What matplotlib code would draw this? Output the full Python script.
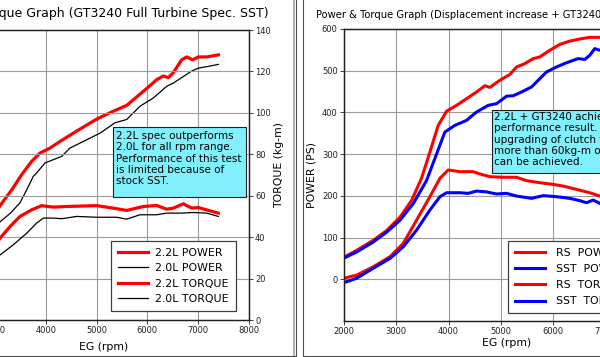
import numpy as np
import matplotlib.pyplot as plt
from matplotlib.lines import Line2D
from matplotlib.patches import Rectangle

# ---- left chart: GT3240 full turbine spec SST ----
rpm_pw22 = [2000, 2500, 3000, 3093, 3324, 3521, 3718, 3882, 4079, 4276, 4605, 5000,
            5327, 5592, 5920, 6183, 6314, 6413, 6511, 6676, 6775, 6893, 7004, 7170, 7400]
pw22 = [50, 85, 158, 176, 214, 251, 283, 303, 315, 331, 356, 385,
        404, 418, 452, 480, 489, 485, 497, 528, 535, 528, 535, 535, 540]

rpm_pw20 = [2000, 2500, 3000, 3093, 3300, 3487, 3619, 3750, 3816, 3980, 4144, 4310, 4473,
            4736, 5065, 5361, 5592, 5854, 6117, 6380, 6511, 6676, 6874, 7004, 7235, 7399]
pw20 = [40, 70, 122, 137, 158, 183, 214, 247, 255, 279, 287, 295, 315,
        331, 351, 376, 384, 416, 436, 464, 472, 485, 501, 508, 513, 517]

rpm_tq22 = [2000, 2500, 3000, 3093, 3290, 3487, 3718, 3915, 4144, 4408, 5000, 5327,
            5592, 5919, 6183, 6380, 6511, 6708, 6874, 7004, 7235, 7399]
tq22 = [18, 25, 36, 39.5, 45.1, 50.0, 53.2, 55.2, 54.5, 54.8, 55.2, 54.0,
        52.9, 54.8, 55.3, 53.5, 54.0, 56.1, 54.0, 54.3, 52.7, 51.6]

rpm_tq20 = [2000, 2500, 3000, 3093, 3355, 3619, 3816, 3947, 4144, 4310, 4605, 5000,
            5394, 5592, 5854, 6183, 6380, 6676, 6907, 7170, 7399]
tq20 = [15, 20, 28.5, 31.4, 36.3, 41.9, 46.8, 49.2, 49.2, 48.9, 50.0, 49.6,
        49.6, 48.7, 50.8, 50.8, 51.6, 51.6, 51.9, 51.6, 50.0]

# ---- right chart: displacement increase + GT3240 ----
rpm_rs_pw = [2000, 2243, 2561, 2817, 3071, 3294, 3486, 3644, 3803, 3964, 4155, 4346, 4537,
             4696, 4792, 4983, 5174, 5302, 5461, 5620, 5747, 5939, 6130, 6321, 6512,
             6704, 6895, 7100, 7400]
rs_pw = [53, 69.5, 93.5, 117, 149, 189, 243, 305, 369, 403, 417, 433, 449,
         464, 460, 477, 491, 509, 517, 529, 533, 549, 563, 571, 576,
         580, 580, 579, 577]

rpm_sst_pw = [2000, 2243, 2561, 2817, 3071, 3326, 3581, 3740, 3931, 4122, 4346, 4537, 4760,
              4920, 5111, 5238, 5398, 5589, 5748, 5876, 6067, 6258, 6480, 6608, 6704,
              6799, 6895, 7100, 7400]
sst_pw = [51, 65.5, 89.5, 113, 141.5, 181.5, 237, 290, 353, 369, 381, 401, 417,
          421, 439, 440, 449, 461, 481, 497, 509, 519, 529, 527, 537,
          553, 549, 548, 552]

rpm_rs_tq = [2000, 2243, 2561, 2880, 3134, 3390, 3644, 3836, 3994, 4218, 4472, 4600,
             4792, 5046, 5302, 5493, 5748, 6002, 6193, 6449, 6704, 6895, 7100, 7400]
rs_tq = [20.5, 22, 26, 30.8, 37.2, 48.4, 59.6, 68.4, 72.4, 71.6, 71.6, 70.5,
         69.2, 68.9, 68.9, 67.3, 66.3, 65.5, 64.7, 63.1, 61.5, 59.9, 58.5, 56.5]

rpm_sst_tq = [2000, 2243, 2561, 2880, 3134, 3390, 3644, 3836, 3964, 4218, 4378, 4537,
              4729, 4920, 5111, 5302, 5589, 5812, 6067, 6321, 6512, 6640, 6768,
              6895, 7100, 7400]
sst_tq = [18.4, 20.5, 25.3, 30, 35.6, 43.6, 53.2, 59.6, 61.5, 61.5, 61.2, 62.3,
          61.9, 60.9, 61.2, 59.9, 58.8, 60.1, 59.6, 58.8, 57.7, 56.7, 58,
          56.4, 55, 53]

W, H = 600, 357


def fx(px):
    return px / W


def fy(py):
    return 1 - py / H


def style_axes(ax, ax2):
    for a in (ax, ax2):
        for s in a.spines.values():
            s.set_color('#202020')
            s.set_linewidth(0.9)
    ax.set_xlim(2000, 8000)
    ax.set_xticks(np.arange(2000, 8001, 1000))
    ax.set_ylim(-100, 600)
    ax.set_yticks(np.arange(0, 601, 100))
    ax2.set_ylim(0, 140)
    ax2.set_yticks(np.arange(0, 141, 20))
    ax.grid(True, color='#9a9a9a', lw=0.8)
    ax.set_axisbelow(True)
    for a in (ax, ax2):
        a.tick_params(labelsize=6, length=3, width=0.6, pad=1.5, colors='#202020')


fig = plt.figure(figsize=(6, 3.57), dpi=100)

# left chart
axL = fig.add_axes([fx(-55.4), fy(320), fx(304.2), 290 / H])
axL2 = axL.twinx()
style_axes(axL, axL2)
axL.plot(rpm_pw22, pw22, color='red', lw=2.3, solid_joinstyle='round')
axL.plot(rpm_pw20, pw20, color='black', lw=0.9)
axL2.plot(rpm_tq22, tq22, color='red', lw=2.3, solid_joinstyle='round')
axL2.plot(rpm_tq20, tq20, color='black', lw=0.9)
axL.set_yticks([])
axL.yaxis.grid(False)
for t in np.arange(20, 140, 20):
    axL2.axhline(t, color='#9a9a9a', lw=0.8, zorder=0)

legL = [Line2D([], [], color='red', lw=2.3), Line2D([], [], color='black', lw=0.9),
        Line2D([], [], color='red', lw=2.3), Line2D([], [], color='black', lw=0.9)]
lg = axL2.legend(legL, ['2.2L POWER', '2.0L POWER', '2.2L TORQUE', '2.0L TORQUE'],
                 loc='upper left', bbox_to_anchor=(fx(111), fy(241)),
                 bbox_transform=fig.transFigure, fontsize=7.9, fancybox=False,
                 handlelength=2.8, handletextpad=0.65, labelspacing=0.5,
                 borderpad=0.6, borderaxespad=0, framealpha=1)
lg.get_frame().set_edgecolor('#404040')
lg.get_frame().set_linewidth(0.9)

fig.text(fx(269), fy(14), 'Power & Torque Graph (GT3240 Full Turbine Spec. SST)',
         ha='right', va='center', fontsize=9.0)
fig.text(fx(104), fy(347), 'EG (rpm)', ha='center', va='center', fontsize=7.8)
fig.text(fx(279), fy(165), 'TORQUE (kg-m)', ha='center', va='center',
         rotation=90, fontsize=7.8)

fig.patches.append(Rectangle((fx(113), fy(197)), fx(133), 70 / H,
                             transform=fig.transFigure, facecolor='#80f0fc',
                             edgecolor='#202020', lw=0.8))
fig.text(fx(116), fy(131), '2.2L spec outperforms\n2.0L for all rpm range.\n'
         'Performance of this test\nis limited because of\nstock SST.',
         ha='left', va='top', fontsize=7.5, linespacing=1.16)

# right chart
axR = fig.add_axes([fx(344), fy(321), fx(313.5), 292 / H])
axR2 = axR.twinx()
style_axes(axR, axR2)
axR.plot(rpm_rs_pw, rs_pw, color='red', lw=2.2, solid_joinstyle='round')
axR.plot(rpm_sst_pw, sst_pw, color='blue', lw=2.2, solid_joinstyle='round')
axR2.plot(rpm_rs_tq, rs_tq, color='red', lw=2.2, solid_joinstyle='round')
axR2.plot(rpm_sst_tq, sst_tq, color='blue', lw=2.2, solid_joinstyle='round')

legR = [Line2D([], [], color=c, lw=2.2) for c in ['red', 'blue', 'red', 'blue']]
lg2 = axR2.legend(legR, ['RS  POWER', 'SST  POWER', 'RS  TORQUE', 'SST  TORQUE'],
                  loc='upper left', bbox_to_anchor=(fx(508), fy(241)),
                  bbox_transform=fig.transFigure, fontsize=7.8, fancybox=False,
                  handlelength=2.8, handletextpad=1.0, labelspacing=0.58,
                  borderpad=0.6, borderaxespad=0, framealpha=1)
lg2.get_frame().set_edgecolor('#404040')
lg2.get_frame().set_linewidth(0.9)

fig.text(fx(316), fy(15), 'Power & Torque Graph (Displacement increase + GT3240 Race Spec.)',
         ha='left', va='center', fontsize=7.2)
fig.text(fx(507), fy(343), 'EG (rpm)', ha='center', va='center', fontsize=7.8)
fig.text(fx(312), fy(175), 'POWER (PS)', ha='center', va='center',
         rotation=90, fontsize=7.8)

fig.patches.append(Rectangle((fx(492), fy(173)), fx(130), 63 / H,
                             transform=fig.transFigure, facecolor='#80f0fc',
                             edgecolor='#202020', lw=0.8))
fig.text(fx(494), fy(112), '2.2L + GT3240 achieved best\nperformance result. After\n'
         'upgrading of clutch torque\nmore than 60kg-m of torque\ncan be achieved.',
         ha='left', va='top', fontsize=7.5, linespacing=1.16)

# picture frames
frame_lines = [
    ([fx(294), fx(294)], [fy(0), fy(356)], '#b0b0b0', 1.4),
    ([fx(295.5), fx(295.5)], [fy(0), fy(356)], '#505050', 0.8),
    ([0, fx(295.5)], [fy(355.5), fy(355.5)], '#505050', 0.8),
    ([fx(302.5), fx(302.5)], [fy(0), fy(356)], '#505050', 0.8),
    ([fx(302.5), 1], [fy(355.5), fy(355.5)], '#505050', 0.8),
]
for xs, ys, c, w in frame_lines:
    fig.add_artist(Line2D(xs, ys, transform=fig.transFigure, color=c, lw=w))

fig.savefig('out.png', dpi=100)
